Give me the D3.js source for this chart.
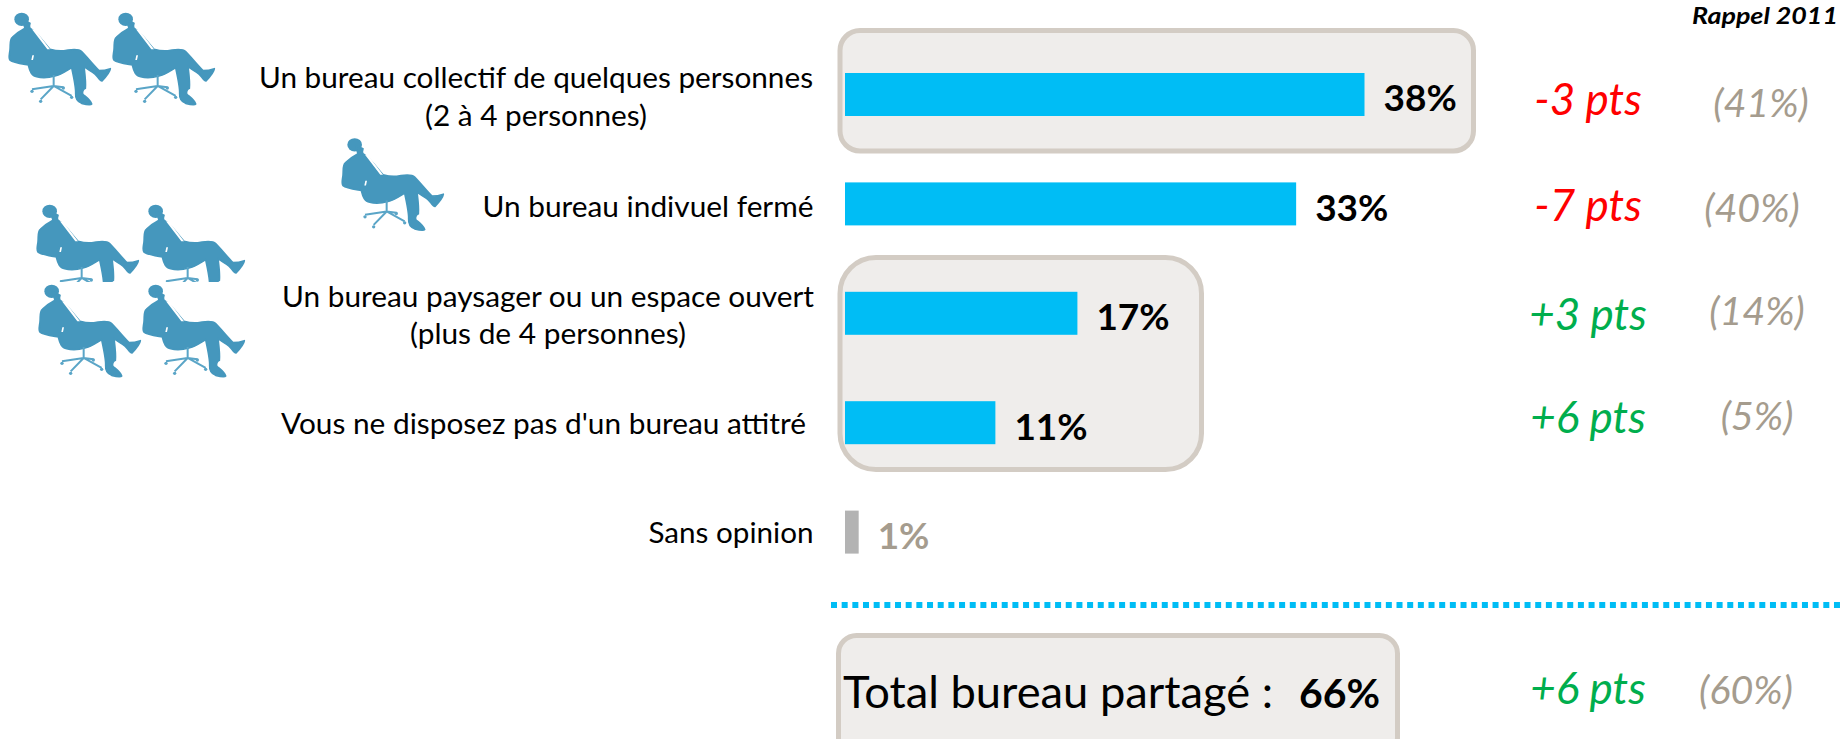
<!DOCTYPE html>
<html><head><meta charset="utf-8">
<script src="https://cdn.jsdelivr.net/npm/d3@7"></script>
<style>html,body{margin:0;padding:0;background:#fff;overflow:hidden}svg{display:block}text{font-family:Lato,"Open Sans",sans-serif}</style>
</head><body><div id="c"></div>
<script>
const categories=["collectif","ferme","paysager","sans","opinion"];
const labels=[["Un bureau collectif de quelques personnes","(2 à 4 personnes)"],["Un bureau indivuel fermé"],["Un bureau paysager ou un espace ouvert","(plus de 4 personnes)"],["Vous ne disposez pas d'un bureau attitré"],["Sans opinion"]];
const values=[38,33,17,11,1];
const deltas=["-3 pts","-7 pts","+3 pts","+6 pts"];
const recalls=["(41%)","(40%)","(14%)","(5%)"];
const totalLabel="Total bureau partagé :";
const totalValue=66, totalDelta="+6 pts", totalRecall="(60%)";
const recallTitle="Rappel 2011";

const W=1843,H=739;
const svg=d3.select("#c").append("svg").attr("width",W).attr("height",H);
const x=d3.scaleLinear().domain([0,38]).range([845,1364.5]);
const step=109.4, pad=0.607;
const y=d3.scaleBand().domain(categories).range([73,73+step*(5-pad)]).paddingInner(pad).paddingOuter(0);
const defs=svg.append("defs");
defs.append("filter").attr("id","blur").attr("x","-1%").attr("width","102%").attr("y","-300%").attr("height","700%")
  .append("feGaussianBlur").attr("stdDeviation","1.8");

const man=defs.append("g").attr("id","man").attr("transform","scale(0.3333)");
man.append("ellipse").attr("cx",65).attr("cy",58).attr("rx",22).attr("ry",20).attr("fill","#4597bd");
man.append("path").attr("fill","#4597bd").attr("stroke","#4597bd").attr("stroke-width",5).attr("stroke-linejoin","round").attr("d",
"M68 60L90 70C88 76 86 80 90 85C108 95 130 125 150 148C165 152 185 154 200 151C215 149 235 145 245 155C260 170 280 195 297 212C307 212 320 210 331 206C330 215 320 228 306 243C298 243 293 228 285 222C275 214 262 208 252 200C255 225 258 245 256 265C250 268 246 272 248 282C256 290 270 298 275 312C273 315 260 314 245 310C232 305 226 298 227 280C228 265 222 235 215 203C200 212 180 226 165 228C150 232 125 234 110 230C95 228 90 215 85 195C70 192 40 188 30 180C25 176 28 165 30 150C32 135 28 120 37 112C47 102 62 92 75 85Z");
man.append("path").attr("fill","#fff").attr("d","M96 88L106 90L150 148L142 148Z M97 166L102 166L99 180L94 180Z");
const chair=man.append("g").attr("stroke","#5aa5c7").attr("fill","none").attr("stroke-width",6);
chair.append("path").attr("d","M161 225V258M161 258L96 268M161 258L122 298M161 258L215 288M161 258L190 262");
chair.append("g").attr("fill","#5aa5c7").attr("stroke","none").selectAll("circle")
  .data([[96,274],[122,304],[215,292],[190,264]]).join("circle").attr("cx",d=>d[0]).attr("cy",d=>d[1]).attr("r",5);
defs.append("clipPath").attr("id","cut").append("rect").attr("x",0).attr("y",195).attr("width",260).attr("height",87);
const icons=[[0,0,0],[104,0,0],[333,125.5,0],[28,192,1],[134,192,1],[30,272,0],[134,272,0]];
const ig=svg.append("g");
icons.forEach(d=>{
  const host=d[2]?ig.append("g").attr("clip-path","url(#cut)"):ig;
  host.append("use").attr("href","#man").attr("transform",`translate(${d[0]},${d[1]})`);
});

const panels=[[840,30.5,633.5,120.5,20],[840,257.5,361.5,212,36],[838.5,635.5,559,120,18]];
svg.append("g").selectAll("rect").data(panels).join("rect")
 .attr("x",d=>d[0]).attr("y",d=>d[1]).attr("width",d=>d[2]).attr("height",d=>d[3]).attr("rx",d=>d[4])
 .attr("fill","#efedeb").attr("stroke","#d3ccc4").attr("stroke-width",5);

svg.append("g").selectAll("rect").data(categories).join("rect")
 .attr("x",x(0)).attr("y",d=>y(d)).attr("height",y.bandwidth())
 .attr("width",(d,i)=>x(values[i])-x(0)).attr("fill",(d,i)=>i==4?"#b3b3b3":"#00bdf5");

const cy=d=>y(d)+y.bandwidth()/2;
const lab=svg.append("g").attr("fill","#000").attr("font-size",29);
const labelX=[536,813.5,548,806,813.5];
const labelBase=[[-6.8,31.2],[13.2],[-6.5,30.5],[11.5],[11]];
const labelWidth=[[554,222],[331],[532,276],[525],[165]];
categories.forEach((c,i)=>{
  labels[i].forEach((t,j)=>{
    lab.append("text").text(t)
      .attr("x",labelX[i]).attr("text-anchor",labels[i].length==2?"middle":"end")
      .attr("y",cy(c)+labelBase[i][j])
      .attr("textLength",labelWidth[i][j]).attr("lengthAdjust","spacingAndGlyphs");
  });
});

svg.append("g").selectAll("text").data(categories).join("text")
 .attr("x",(d,i)=>x(values[i])+19).attr("y",d=>cy(d)+17)
 .attr("font-size",37).attr("font-weight",700).attr("fill",(d,i)=>i==4?"#a59c8e":"#000")
 .text((d,i)=>values[i]+"%");

const it=svg.append("g").attr("font-style","italic");
const dColor=s=>s[0]=="-"?"#ff0000":"#00ae4d";
const deltaBase=[21,17.5,16.5,10.5];
const recallX=[1761,1752,1757,1757], recallBase=[22.5,18.5,11.5,7.5];
it.selectAll(".d").data(deltas).join("text").attr("class","d").attr("text-anchor","middle")
 .attr("x",1588).attr("y",(d,i)=>cy(categories[i])+deltaBase[i]).attr("font-size",44).attr("fill",dColor).text(d=>d);
it.selectAll(".r").data(recalls).join("text").attr("class","r").attr("text-anchor","middle")
 .attr("x",(d,i)=>recallX[i]).attr("y",(d,i)=>cy(categories[i])+recallBase[i]).attr("font-size",39.5).attr("fill","#a59c8e").text(d=>d);
it.append("text").attr("x",1838).attr("y",24).attr("text-anchor","end").attr("font-size",23).attr("font-weight",700)
  .attr("textLength",146).attr("lengthAdjust","spacingAndGlyphs").text(recallTitle);

const dash="6 4.67";
svg.append("line").attr("x1",831).attr("x2",W).attr("y1",611).attr("y2",611).attr("stroke","#888").attr("stroke-width",6).attr("stroke-dasharray",dash).attr("filter","url(#blur)").attr("opacity",.55);
svg.append("line").attr("x1",831).attr("x2",W).attr("y1",605).attr("y2",605).attr("stroke","#00bdf5").attr("stroke-width",6).attr("stroke-dasharray",dash);

svg.append("text").attr("x",843).attr("y",708).attr("font-size",44).attr("textLength",430).attr("lengthAdjust","spacingAndGlyphs").text(totalLabel);
svg.append("text").attr("x",1299).attr("y",708).attr("font-weight",700).attr("font-size",41).text(totalValue+"%");
it.append("text").attr("x",1588).attr("y",704).attr("text-anchor","middle").attr("font-size",44).attr("fill",dColor(totalDelta)).text(totalDelta);
it.append("text").attr("x",1746).attr("y",704).attr("text-anchor","middle").attr("font-size",39.5).attr("fill","#a59c8e").text(totalRecall);
</script></body></html>
